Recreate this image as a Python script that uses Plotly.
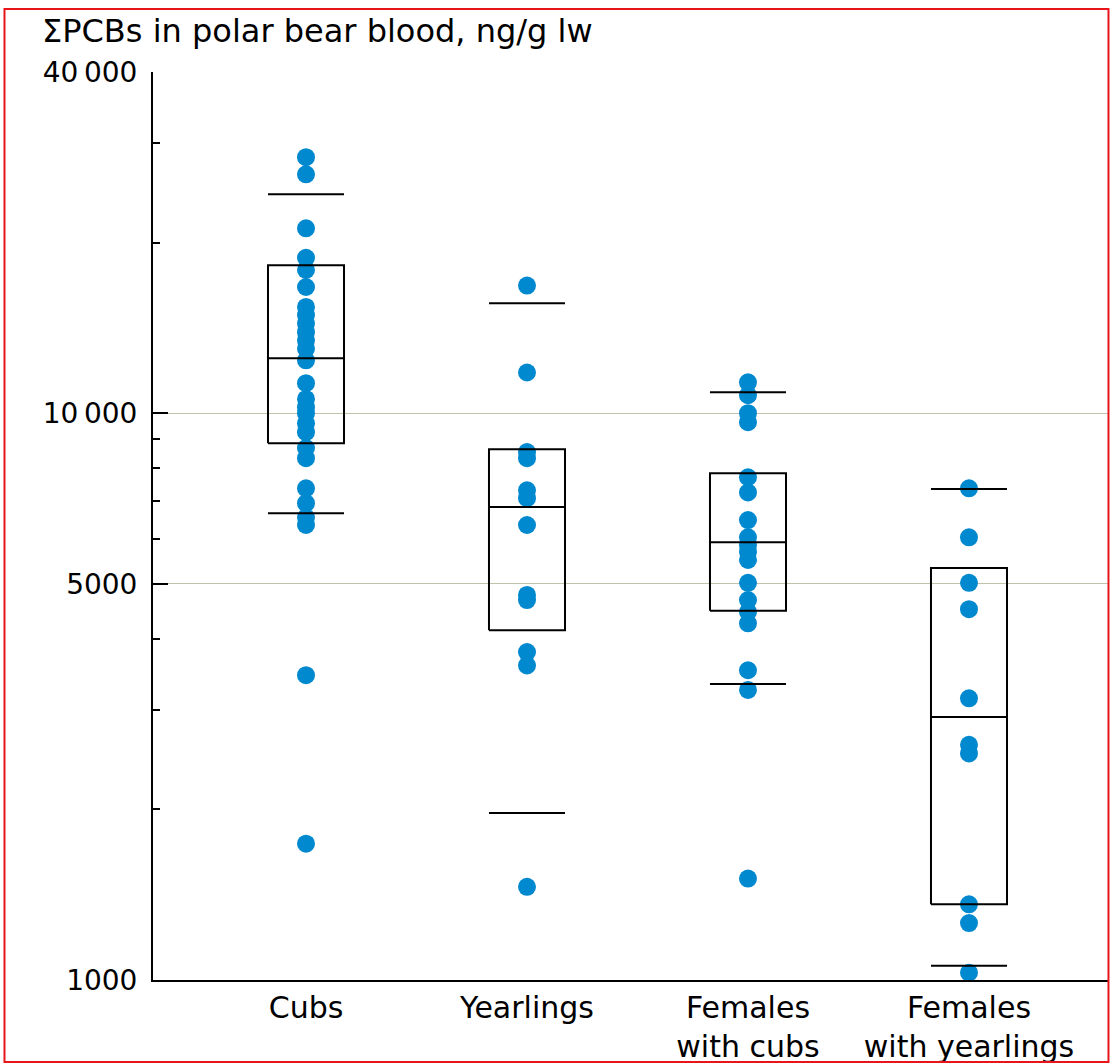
import plotly.graph_objects as go

# categories (x positions 0..3)
groups = ["Cubs", "Yearlings", "Females<br>with cubs", "Females<br>with yearlings"]

# individual bears, ng/g lw
cubs = [28300, 26400, 21200, 18800, 17900, 16700, 15400, 14900, 14400, 13900,
        13450, 13000, 12400, 11300, 10600, 10250, 10000, 9600, 9260, 8680,
        8330, 7370, 6940, 6550, 6350, 3450, 1740]
yearlings = [16800, 11800, 8540, 8330, 7310, 7080, 6350, 4780, 4680, 3790, 3590, 1460]
females_cubs = [11340, 10760, 10000, 9640, 7710, 7250, 6480, 6040, 5850, 5690,
                5510, 5020, 4680, 4460, 4260, 3520, 3250, 1510]
females_yearlings = [7370, 6040, 5020, 4510, 3140, 2600, 2510, 1360, 1260, 1030]

# box summaries per group
q1 = [8850, 4140, 4480, 1360]
median = [12500, 6830, 5920, 2910]
q3 = [18240, 8640, 7840, 5330]
whisker_lo = [6660, 1970, 3330, 1060]
whisker_hi = [24340, 15630, 10890, 7350]

y_tickvals = [1000, 5000, 10000, 40000]
y_ticktext = ["1000", "5000", "10\u2009000", "40\u2009000"]
y_minor = [2000, 3000, 4000, 6000, 7000, 8000, 9000, 20000, 30000]

BLUE = "#0089cf"
HALF = 0.172  # half width of the boxes, in category units
YRANGE = [3, 4.60206]

fig = go.Figure()

for i, vals in enumerate([cubs, yearlings, females_cubs, females_yearlings]):
    fig.add_trace(go.Scatter(
        x=[i] * len(vals), y=vals, mode="markers",
        marker=dict(color=BLUE, size=18, line=dict(width=0)),
        cliponaxis=False, showlegend=False, hoverinfo="y",
    ))

# boxes, medians and whisker bars as one line trace
bx, by = [], []
for i in range(len(groups)):
    a, b = i - HALF, i + HALF
    bx += [a, b, b, a, a, None, a, b, None, a, b, None, a, b, None]
    by += [q1[i], q1[i], q3[i], q3[i], q1[i], None,
           median[i], median[i], None,
           whisker_lo[i], whisker_lo[i], None,
           whisker_hi[i], whisker_hi[i], None]
fig.add_trace(go.Scatter(
    x=bx, y=by, mode="lines", line=dict(color="black", width=2),
    connectgaps=False, showlegend=False, hoverinfo="skip",
))

# empty trace so the overlay axis carrying the tick marks gets drawn
fig.add_trace(go.Scatter(x=[None], y=[None], yaxis="y2", showlegend=False,
                         hoverinfo="skip"))

fig.update_layout(
    width=1113, height=1064,
    margin=dict(l=153, r=5, t=72, b=84),
    plot_bgcolor="white", paper_bgcolor="white",
    font=dict(family="DejaVu Sans", color="black"),
    showlegend=False,
    yaxis=dict(
        type="log", range=YRANGE,
        tickvals=y_tickvals, ticktext=y_ticktext,
        tickfont=dict(size=28, family="DejaVu Sans", color="black"),
        ticks="", ticklabelstandoff=8, automargin=False,
        showgrid=True, gridcolor="#c2c2aa", gridwidth=1,
        showline=True, linecolor="black", linewidth=2,
        zeroline=False,
    ),
    yaxis2=dict(
        overlaying="y", side="left", type="log", range=YRANGE,
        tickvals=y_tickvals, showticklabels=False,
        ticks="inside", ticklen=15, tickwidth=2, tickcolor="black",
        minor=dict(tickvals=y_minor, ticks="inside", ticklen=7,
                   tickwidth=1.5, tickcolor="black", showgrid=False),
        showgrid=False, zeroline=False, showline=False,
    ),
    xaxis=dict(
        range=[-0.6923, 3.629],
        tickvals=[0, 1, 2, 3], ticktext=groups,
        tickfont=dict(size=30, family="DejaVu Sans", color="black"),
        showgrid=False, zeroline=False,
        showline=True, linecolor="black", linewidth=2,
        ticks="", automargin=False,
    ),
)

fig.add_annotation(
    text="ΣPCBs in polar bear blood, ng/g lw",
    xref="paper", yref="paper", x=-0.1183, y=1.0452,
    xanchor="left", yanchor="middle", showarrow=False,
    font=dict(size=32, family="DejaVu Sans", color="black"),
)

# red frame around the whole graphic
fig.add_shape(
    type="rect", xref="paper", yref="paper",
    x0=-0.1555, x1=1.0005, y0=-0.0903, y1=1.0694,
    line=dict(color="#e8141c", width=2), layer="above",
)

fig.write_html("out.html", config={"displayModeBar": False},
               post_script="document.body.style.margin='0';")
